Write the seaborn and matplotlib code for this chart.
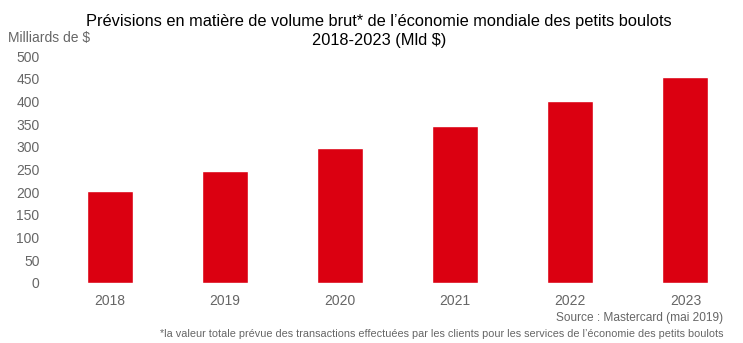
import matplotlib
matplotlib.use("Agg")
import matplotlib.pyplot as plt
import seaborn as sns
import pandas as pd

years = ["2018", "2019", "2020", "2021", "2022", "2023"]
values = [203, 247, 297, 346, 401, 454]
yticks = [0, 50, 100, 150, 200, 250, 300, 350, 400, 450, 500]

sns.set_theme(style="white")
plt.rcParams['font.family'] = ['Liberation Sans', 'DejaVu Sans']

df = pd.DataFrame({"year": years, "value": values})
fig = plt.figure(figsize=(7.43, 3.43), dpi=100)
ax = fig.add_axes([52/743, 1 - 283/343, (743 - 52)/743, (283 - 56)/343])
sns.barplot(data=df, x="year", y="value", color="#DB0011", saturation=1, width=0.4, ax=ax)
ax.set_ylim(0, 500)
ax.set_xlim(-0.5, 5.5)
ax.set_yticks(yticks)
ax.set_xlabel("")
ax.set_ylabel("")
for s in ax.spines.values():
    s.set_visible(False)
ax.tick_params(axis="both", length=0, colors="#666666", labelsize=10)
ax.tick_params(axis="y", pad=9)
ax.tick_params(axis="x", pad=8)
ax.grid(False)

fig.text(379/743, 1 - 31/343, "Prévisions en matière de volume brut* de l’économie mondiale des petits boulots\n2018-2023 (Mld $)",
         ha="center", va="center", fontsize=11.8, color="#000000", linespacing=1.4)
fig.text(8/743, 1 - 38/343, "Milliards de $", ha="left", va="center", fontsize=10, color="#666666")
fig.text(723/743, 1 - 318/343, "Source : Mastercard (mai 2019)", ha="right", va="center", fontsize=8.6, color="#666666")
fig.text(723/743, 1 - 334/343, "*la valeur totale prévue des transactions effectuées par les clients pour les services de l’économie des petits boulots",
         ha="right", va="center", fontsize=7.8, color="#666666")

fig.savefig("out.png", dpi=100)
